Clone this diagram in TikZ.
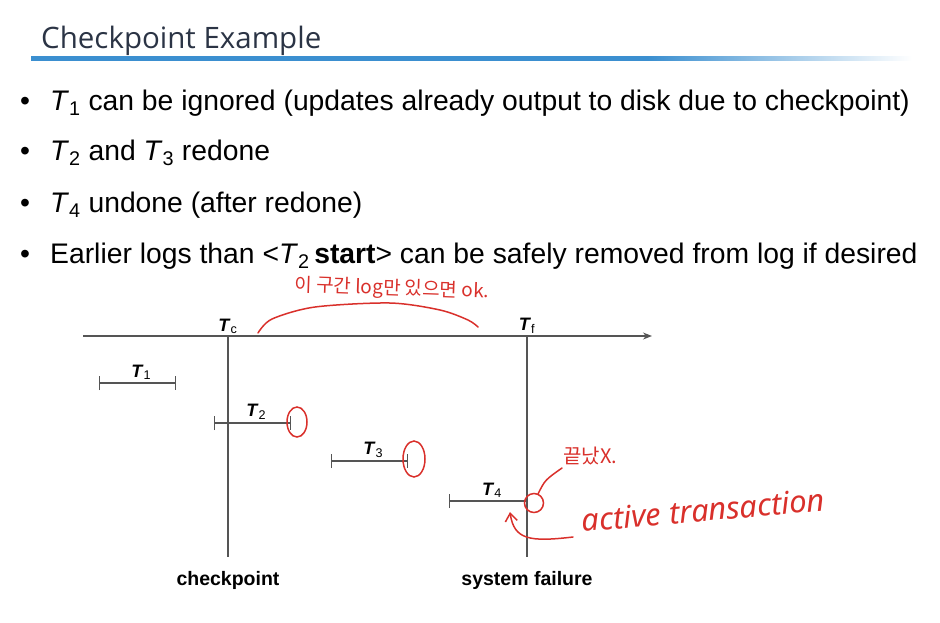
\documentclass[tikz,border=0pt]{standalone}
\usepackage{fontspec}
\setmainfont{Liberation Sans}
\newfontfamily\titlefont{Open Sans}
\newfontfamily\kofont{Noto Sans CJK KR}
\newfontfamily\penfont{Noto Sans}
\usetikzlibrary{calc,arrows.meta,positioning}

\definecolor{titlegray}{HTML}{2B3445}
\definecolor{rulebl}{HTML}{3B8FD0}
\definecolor{axisgray}{HTML}{555555}
\definecolor{pen}{HTML}{D9302B}

% path covers 25bp--75bp of the shading
\pgfdeclarehorizontalshading{rulefade}{100bp}{color(0bp)=(rulebl); color(60bp)=(rulebl); color(75bp)=(white); color(100bp)=(white)}

\newcommand{\tlab}[1]{\textbf{\textit{T}}\textsubscript{\normalfont #1}}
\newcommand{\ti}[1]{\textit{T}\textsubscript{#1}}

\tikzset{
  bullet/.style={anchor=base west,inner sep=0pt,font=\fontsize{28.3}{32}\selectfont},
  axisline/.style={axisgray,line width=1.3pt},
  txn/.style={axisgray,line width=1.3pt,{Bar[width=14pt]}-{Bar[width=14pt]}},
  tlabel/.style={inner sep=1pt,font=\fontsize{18}{20}\selectfont},
  bottomlab/.style={inner sep=0pt,font=\fontsize{19.5}{22}\selectfont\bfseries},
  redpen/.style={pen,line width=1.5pt,line cap=round},
}

\begin{document}
\begin{tikzpicture}[x=1pt,y=-1pt]
  \useasboundingbox (0,0) rectangle (940,622);

  % title and rule
  \node[anchor=base west,inner sep=0pt,text=titlegray,font=\titlefont\fontsize{29.5}{32}\selectfont] (title) at (41,48) {Checkpoint Example};
  \shade[shading=rulefade] (31,56) rectangle (912,60);

  % bullets
  \foreach \y/\txt [count=\i] in {
    110/{\ti{1} can be ignored (updates already output to disk due to checkpoint)},
    160/{\ti{2} and \ti{3} redone},
    212/{\ti{4} undone (after redone)},
    263/{Earlier logs than <\ti{2}\,\textbf{start}> can be safely removed from log if desired}} {
    \node[bullet] (dot\i) at (20,\y) {\textbullet};
    \node[bullet] (item\i) at (50,\y) {\txt};
  }

  % time axis
  \coordinate (axL) at (83,336);
  \coordinate (axR) at (652,336);
  \draw[axisline,-{Stealth[length=9pt,width=7pt]}] (axL) -- (axR);

  \coordinate (tcTop) at (228,336);
  \coordinate (tcBot) at (228,557);
  \coordinate (tfTop) at (527,336);
  \coordinate (tfBot) at (527,557);
  \draw[axisline] (tcTop) -- (tcBot);
  \draw[axisline] (tfTop) -- (tfBot);
  \node[tlabel,above=1pt of tcTop] (tc) {\tlab{c}};
  \node[tlabel,above=1pt of tfTop] (tf) {\tlab{f}};
  \node[bottomlab,below=14pt of tcBot] (ckpt) {checkpoint};
  \node[bottomlab,below=14pt of tfBot] (fail) {system failure};

  % transactions
  \foreach \xa/\xb/\y [count=\i] in {99/176/383, 214/291/423, 331/408/461, 449/527/501} {
    \coordinate (s\i) at (\xa,\y);
    \coordinate (e\i) at (\xb,\y);
    \draw[txn] (s\i) -- (e\i);
    \node[tlabel,above=2pt] (t\i) at ($(s\i)!0.55!(e\i)$) {\tlab{\i}};
  }

  % handwritten notes
  \draw[redpen] plot[smooth] coordinates {(258,333) (272,319) (315,307) (390,303) (440,310) (468,320) (478,327)};
  \node[text=pen,font=\kofont\fontsize{19}{20}\selectfont,rotate=-2] (note1) at (392,289) {이 구간 log만 있으면 ok.};

  \draw[redpen] (e2) ++(6,-1) ellipse (10 and 15);
  \draw[redpen] (e3) ++(6,-2) ellipse (11 and 18);
  \coordinate (c4) at (534,503);
  \draw[redpen] (c4) circle (9.5);
  \coordinate (n2) at (562,468);
  \draw[redpen] (538,494) .. controls (545,480) .. (n2);
  \node[text=pen,font=\kofont\fontsize{20}{22}\selectfont,anchor=west] (note2) at (560,456) {끝났X.};

  \coordinate (arrS) at (573,537);
  \coordinate (arrE) at (510,512);
  \draw[redpen,-{Straight Barb[length=8pt,width=12pt]}] (arrS) .. controls (530,542) and (514,540) .. (arrE);
  \node[text=pen,font=\penfont\fontsize{31}{34}\selectfont\itshape,rotate=5,anchor=west] (note3) at (578,521) {active transaction};
\end{tikzpicture}
\end{document}
